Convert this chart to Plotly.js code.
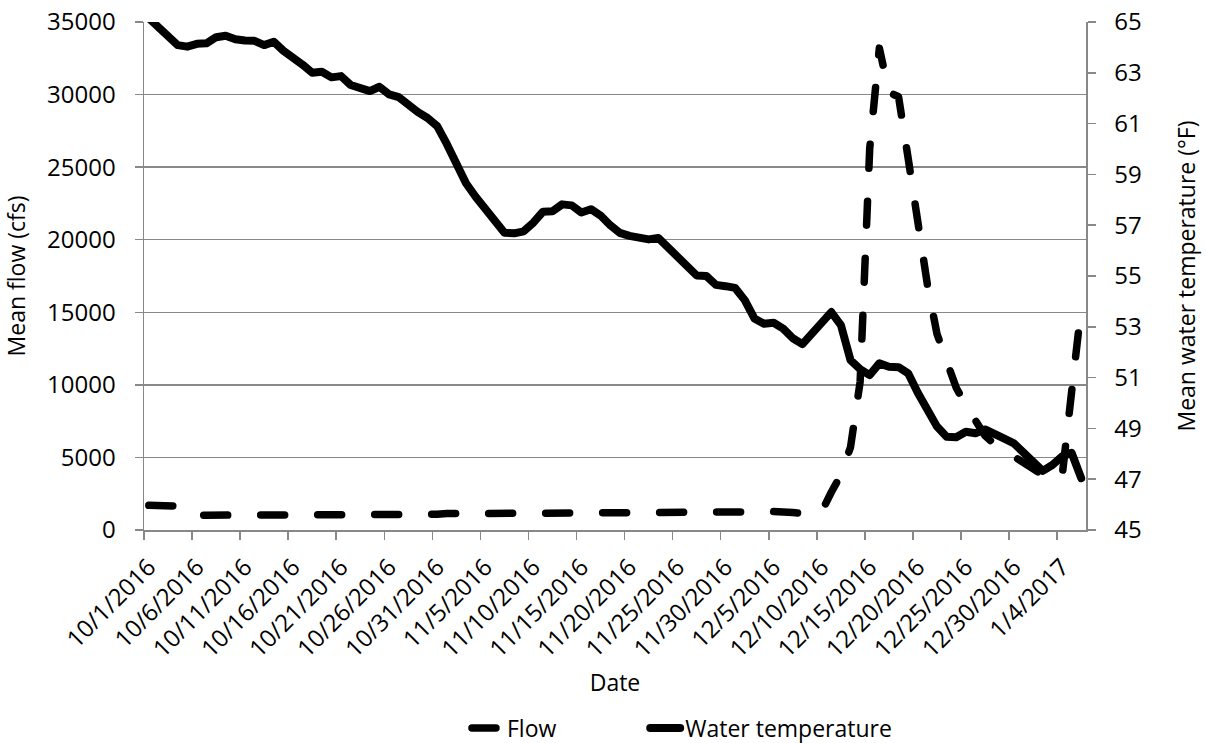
<!DOCTYPE html>
<html>
<head>
<meta charset="utf-8">
<script src="https://cdn.plot.ly/plotly-3.0.1.min.js"></script>
<style>
html,body{margin:0;padding:0;background:#fff;}
#chart{width:1206px;height:743px;}
.js-line{stroke-linecap:round!important;stroke-linejoin:round!important;}
</style>
</head>
<body>
<div id="chart"></div>
<script>
// Categories: daily dates
const dates = [
"10/1/2016","10/2/2016","10/3/2016","10/4/2016","10/5/2016","10/6/2016","10/7/2016","10/8/2016","10/9/2016","10/10/2016",
"10/11/2016","10/12/2016","10/13/2016","10/14/2016","10/15/2016","10/16/2016","10/17/2016","10/18/2016","10/19/2016","10/20/2016",
"10/21/2016","10/22/2016","10/23/2016","10/24/2016","10/25/2016","10/26/2016","10/27/2016","10/28/2016","10/29/2016","10/30/2016",
"10/31/2016","11/1/2016","11/2/2016","11/3/2016","11/4/2016","11/5/2016","11/6/2016","11/7/2016","11/8/2016","11/9/2016",
"11/10/2016","11/11/2016","11/12/2016","11/13/2016","11/14/2016","11/15/2016","11/16/2016","11/17/2016","11/18/2016","11/19/2016",
"11/20/2016","11/21/2016","11/22/2016","11/23/2016","11/24/2016","11/25/2016","11/26/2016","11/27/2016","11/28/2016","11/29/2016",
"11/30/2016","12/1/2016","12/2/2016","12/3/2016","12/4/2016","12/5/2016","12/6/2016","12/7/2016","12/8/2016","12/9/2016",
"12/10/2016","12/11/2016","12/12/2016","12/13/2016","12/14/2016","12/15/2016","12/16/2016","12/17/2016","12/18/2016","12/19/2016",
"12/20/2016","12/21/2016","12/22/2016","12/23/2016","12/24/2016","12/25/2016","12/26/2016","12/27/2016","12/28/2016","12/29/2016",
"12/30/2016","12/31/2016","1/1/2017","1/2/2017","1/3/2017","1/4/2017","1/5/2017","1/6/2017"
];

// Mean flow (cfs)
const flow = [
1700,1700,1700,1650,1250,1030,1020,1020,1030,1020,
1030,1030,1020,1030,1030,1020,1030,1030,1020,1030,
1030,1020,1010,980,960,980,1000,1020,1030,1050,
1080,1130,1150,1150,1160,1150,1150,1150,1150,1150,
1150,1150,1150,1150,1150,1180,1180,1180,1180,1180,
1180,1150,1150,1150,1150,1150,1150,1150,1150,1150,
1150,1150,1160,1250,1300,1300,1280,1200,1150,1150,
1250,2600,3800,5700,10200,26300,33200,30150,29850,25600,
21200,16900,13500,11700,9800,8600,7600,6500,5900,5450,
5030,4600,4200,3800,3650,3600,9500,15300
];

// Mean water temperature (°F)
const temperature = [
65.15,64.80,64.45,64.09,64.03,64.14,64.16,64.40,64.46,64.32,
64.27,64.26,64.09,64.22,63.87,63.62,63.32,63.00,63.04,62.82,
62.87,62.52,62.42,62.28,62.45,62.15,62.04,61.70,61.45,61.22,
60.90,60.20,59.40,58.65,58.12,57.62,57.15,56.70,56.68,56.76,
57.10,57.53,57.55,57.82,57.78,57.50,57.63,57.38,57.00,56.70,
56.58,56.50,56.44,56.50,56.12,55.78,55.40,55.02,55.00,54.65,
54.60,54.53,54.05,53.33,53.12,53.16,52.93,52.55,52.32,52.75,
53.18,53.58,53.07,51.69,51.33,51.10,51.56,51.43,51.41,51.17,
50.40,49.72,49.07,48.67,48.65,48.87,48.81,48.96,48.74,48.60,
48.41,48.05,47.69,47.33,47.56,47.89,48.04,47.04
];

const flowTicks = [0,5000,10000,15000,20000,25000,30000,35000];
const flowTickText = ["0","5000","10000","15000","20000","25000","30000","35000"];
const tempTicks = [45,47,49,51,53,55,57,59,61,63,65];

const FONT = "Open Sans, sans-serif";
const GRID = "#888888";
const TXT = {family: FONT, size: 23, color: "#000000"};
const TICK = {family: FONT, size: 24, color: "#000000"};

const traces = [
  {
    x: dates, y: flow, name: "Flow", type: "scatter", mode: "lines",
    yaxis: "y", legend: "legend",
    line: {color: "#000000", width: 7.5, dash: "24px,33px"}
  },
  {
    x: dates, y: temperature, name: "Water temperature", type: "scatter", mode: "lines",
    yaxis: "y2", legend: "legend2",
    line: {color: "#000000", width: 8}
  }
];

const layout = {
  width: 1206, height: 743,
  margin: {l: 144, r: 120, t: 22, b: 213, autoexpand: false},
  paper_bgcolor: "#ffffff", plot_bgcolor: "#ffffff",
  font: TXT,
  showlegend: true,
  legend: {
    orientation: "h", xref: "container", yref: "container",
    x: 0.3872, xanchor: "left", y: 0.0202, yanchor: "middle",
    font: TXT, bgcolor: "rgba(0,0,0,0)"
  },
  legend2: {
    orientation: "h", xref: "container", yref: "container",
    x: 0.535, xanchor: "left", y: 0.0202, yanchor: "middle",
    font: TXT, bgcolor: "rgba(0,0,0,0)"
  },
  xaxis: {
    type: "category",
    range: [-0.5, dates.length - 0.5],
    dtick: 5, tick0: 0,
    tickson: "boundaries",
    ticks: "outside", ticklen: 8, tickcolor: GRID, tickwidth: 1.5,
    tickangle: -45,
    ticklabelstandoff: 12,
    showgrid: false, zeroline: false,
    showline: true, linecolor: GRID, linewidth: 1.5,
    tickfont: TICK,
    title: {text: "Date", font: TXT, standoff: 12}
  },
  yaxis: {
    range: [0, 35000],
    tickvals: flowTicks, ticktext: flowTickText,
    ticks: "outside", ticklen: 8, tickcolor: GRID, tickwidth: 1.5,
    ticklabelstandoff: 14,
    showgrid: true, gridcolor: GRID, gridwidth: 1.5,
    zeroline: false,
    showline: true, linecolor: GRID, linewidth: 1.5,
    tickfont: TICK,
    title: {text: "Mean flow (cfs)", font: TXT, standoff: 30}
  },
  yaxis2: {
    range: [45, 65],
    tickvals: tempTicks,
    overlaying: "y", side: "right",
    ticks: "outside", ticklen: 8, tickcolor: GRID, tickwidth: 1.5,
    ticklabelstandoff: 14,
    showgrid: false, zeroline: false,
    showline: true, linecolor: GRID, linewidth: 1.5,
    tickfont: TICK,
    title: {text: "Mean water temperature (°F)", font: TXT, standoff: 38}
  }
};

Plotly.newPlot("chart", traces, layout, {staticPlot: true, displayModeBar: false});
</script>
</body>
</html>
